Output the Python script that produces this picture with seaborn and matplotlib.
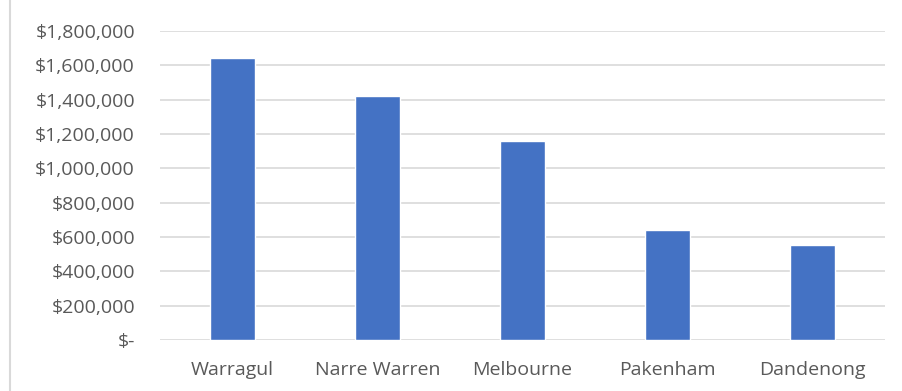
import matplotlib
matplotlib.use("Agg")
import matplotlib.pyplot as plt
from matplotlib.lines import Line2D
from matplotlib.ticker import FuncFormatter
import seaborn as sns
import pandas as pd

suburbs = ["Warragul", "Narre Warren", "Melbourne", "Pakenham", "Dandenong"]
values = [1644000, 1420000, 1158000, 642000, 553000]
y_ticks = [0, 200000, 400000, 600000, 800000, 1000000, 1200000, 1400000, 1600000, 1800000]

df = pd.DataFrame({"suburb": suburbs, "value": values})

sns.set_theme(style="white")
plt.rcParams["font.family"] = ["Open Sans", "DejaVu Sans"]

fig = plt.figure(figsize=(9.02, 3.91), dpi=100)
ax = fig.add_axes([160 / 902, 1 - 340 / 391, 725 / 902, 309 / 391])

sns.barplot(data=df, x="suburb", y="value", color="#4472C4", width=0.31,
            saturation=1, ax=ax, zorder=3)

ax.set_ylim(0, 1800000)
ax.set_xlim(-0.5, len(suburbs) - 0.5)
ax.set_yticks(y_ticks)


def money(v, _):
    if v == 0:
        return "$-"
    return f"${v:,.0f}"


ax.yaxis.set_major_formatter(FuncFormatter(money))
ax.grid(axis="y", color="#d9d9d9", linewidth=1.2, zorder=0)
ax.set_axisbelow(True)
for s in ax.spines.values():
    s.set_visible(False)
ax.tick_params(axis="both", length=0, labelsize=14, labelcolor="#595959")
ax.tick_params(axis="y", pad=18)
ax.tick_params(axis="x", pad=15)
ax.set_xlabel("")
ax.set_ylabel("")

# chart area border on the left edge
fig.add_artist(Line2D([10 / 902, 10 / 902], [0, 1], transform=fig.transFigure,
                      color="#d9d9d9", linewidth=1.5))

fig.savefig("out.png", dpi=100)
